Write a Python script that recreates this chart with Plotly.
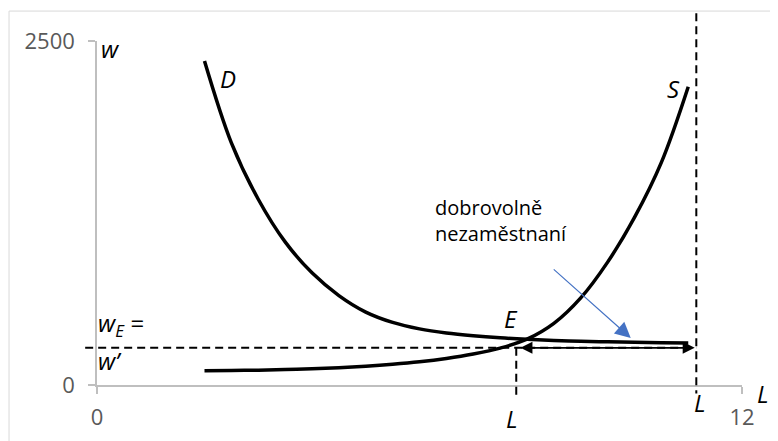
import plotly.graph_objects as go

# ---- data ----
L_pts = [2, 2.5, 3, 3.5, 4, 4.5, 5, 5.5, 6, 6.5, 7, 7.5, 8, 8.5, 9, 9.5, 10, 10.5, 11]
D_vals = [2355, 1760, 1350, 1040, 815, 650, 530, 455, 408, 378, 358, 343, 332, 324, 318, 314, 310, 307, 305]
S_vals = [104, 106, 108, 112, 118, 126, 137, 151, 169, 193, 225, 268, 333, 448, 633, 893, 1218, 1618, 2168]
x_ticks = [0, 12]
y_ticks = [0, 2500]
x_range = [0, 12]
y_range = [0, 2500]
w_eq = 270          # w_E = w'
L_E = 7.8           # employment at equilibrium
L_total = 11.15     # labour force
blue_tail = (8.47, 850)
blue_head = (9.93, 342)

FONT = "Open Sans"

fig = go.Figure()
fig.add_trace(go.Scatter(x=L_pts, y=D_vals, mode="lines",
                         line=dict(color="black", width=3.5, shape="spline"),
                         hoverinfo="skip"))
fig.add_trace(go.Scatter(x=L_pts, y=S_vals, mode="lines",
                         line=dict(color="black", width=3.5, shape="spline"),
                         hoverinfo="skip"))

xspan = x_range[1] - x_range[0]
yspan = y_range[1] - y_range[0]
dash = "8px,5px"
shapes = [
    # outer chart border
    dict(type="rect", xref="paper", yref="paper", x0=-0.1364, x1=1.08, y0=-0.2, y1=1.087,
         line=dict(color="#D9D9D9", width=1), layer="below"),
    # horizontal dashed w'
    dict(type="line", xref="paper", yref="y", x0=-0.22 / xspan, x1=L_total / xspan,
         y0=w_eq, y1=w_eq, line=dict(color="black", width=2, dash=dash)),
    # vertical dashed at L_E
    dict(type="line", xref="x", yref="paper", x0=L_E, x1=L_E,
         y0=w_eq / yspan, y1=-0.04, line=dict(color="black", width=2, dash=dash)),
    # vertical dashed at total labour force
    dict(type="line", xref="x", yref="paper", x0=L_total, x1=L_total,
         y0=1.081, y1=-0.025, line=dict(color="black", width=2, dash=dash)),
]


def px(L):
    return L / xspan


def py(w):
    return w / yspan


it = dict(family=FONT, size=24, color="black", style="italic")
mid = dict(xanchor="center", yanchor="middle", showarrow=False, font=it)
annotations = [
    # double arrow
    dict(x=L_total - 0.03, y=w_eq, ax=L_E + 0.05, ay=w_eq, axref="x", ayref="y",
         xref="x", yref="y", text="", showarrow=True, arrowside="end+start",
         arrowhead=2, startarrowhead=2, arrowsize=1.5, startarrowsize=1.5,
         arrowwidth=1.6, arrowcolor="black"),
    # blue arrow
    dict(x=blue_head[0], y=blue_head[1], ax=blue_tail[0], ay=blue_tail[1], axref="x", ayref="y",
         xref="x", yref="y", text="", showarrow=True, arrowhead=2, arrowsize=2.6,
         arrowwidth=1.2, arrowcolor="#4472C4"),
    dict(x=0.25, y=2442, xref="x", yref="y", text="w", **mid),
    dict(x=2.44, y=2231, xref="x", yref="y", text="D", **mid),
    dict(x=10.72, y=2158, xref="x", yref="y", text="S", **mid),
    dict(x=7.70, y=480, xref="x", yref="y", text="E", **mid),
    dict(x=px(-0.02), y=py(440), xref="paper", yref="paper", text="w<sub>E</sub> =",
         showarrow=False, font=it, xanchor="left", yanchor="middle"),
    dict(x=px(-0.02), y=py(180), xref="paper", yref="paper", text="w’",
         showarrow=False, font=it, xanchor="left", yanchor="middle"),
    dict(x=px(7.72), y=py(-247), xref="paper", yref="paper", text="L", **mid),
    dict(x=px(11.22), y=py(-124), xref="paper", yref="paper", text="L", **mid),
    dict(x=px(12.39), y=py(-65), xref="paper", yref="paper", text="L", **mid),
    dict(x=6.25, y=1192, xref="x", yref="y", text="dobrovolně<br>nezaměstnaní", showarrow=False,
         align="left", xanchor="left", yanchor="middle",
         font=dict(family=FONT, size=20, color="black")),
]

axis_common = dict(showline=True, linecolor="#BFBFBF", linewidth=1.5, ticks="outside",
                   ticklen=7, tickwidth=1.5, tickcolor="#BFBFBF", showgrid=False,
                   zeroline=False, automargin=False,
                   tickfont=dict(family=FONT, size=22, color="#595959"))

# the page body adds an 8px offset, so the figure is 8px smaller and margins shifted
fig.update_layout(
    width=770, height=433,
    margin=dict(l=89, r=36, t=33, b=56, autoexpand=False),
    paper_bgcolor="white", plot_bgcolor="white",
    showlegend=False,
    font=dict(family=FONT),
    xaxis=dict(range=x_range, tickvals=x_ticks, ticklabelstandoff=5, **axis_common),
    yaxis=dict(range=y_range, tickvals=y_ticks, ticklabelstandoff=9, **axis_common),
    shapes=shapes,
    annotations=annotations,
)

fig.write_html("out.html")
